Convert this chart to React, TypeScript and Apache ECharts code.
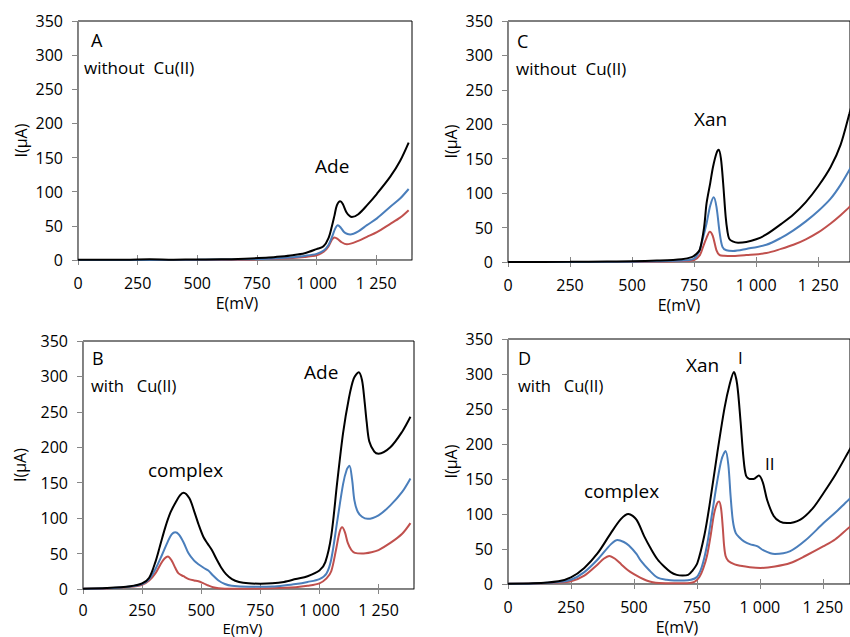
import React, { useEffect, useRef } from "react";
import * as echarts from "echarts";

// ---------- data (E in mV, I in µA) ----------
const xTicks = [0, 250, 500, 750, 1000, 1250];
const yTicks = [0, 50, 100, 150, 200, 250, 300, 350];

// Panel A: adenine, without Cu(II)
const aBlack: [number, number][] = [[0,0.5],[100,0.5],[200,0.5],[300,1],[400,0.5],[500,0.8],[600,1],[700,2],[800,3.5],[850,5],[900,7],[950,10],[1000,16],[1029,20],[1050,32],[1064,49],[1075,65],[1085,80],[1099,86],[1110,82],[1125,70],[1140,64],[1148,63],[1175,67],[1211,80],[1253,97],[1309,122],[1350,145],[1386,172]];
const aBlue: [number, number][] = [[0,0],[500,0.3],[700,1],[800,2],[900,4],[950,6],[1000,9],[1030,14],[1050,22],[1064,33],[1078,46],[1089,51],[1100,48],[1115,41],[1130,38],[1141,37.5],[1175,42],[1211,51],[1253,61],[1309,78],[1350,90],[1386,104]];
const aRed: [number, number][] = [[0,0],[700,0.5],[800,1.5],[900,3],[950,4.5],[1000,7],[1030,12],[1050,20],[1065,30],[1075,33],[1088,31],[1105,26],[1127,23],[1175,28],[1211,34],[1253,41],[1309,53],[1350,62],[1386,73]];

// Panel B: adenine, with Cu(II)
const bBlack: [number, number][] = [[0,0.5],[100,1.5],[200,4],[250,8],[280,16],[306,38],[325,60],[348,87],[370,108],[390,121],[410,132],[425,136],[450,128],[470,110],[490,90],[510,73],[527,64],[545,55],[565,42],[585,30],[605,21],[630,14],[660,10],[700,8],[750,7.5],[800,8],[850,10],[900,14],[950,18],[1000,26],[1025,38],[1050,75],[1075,150],[1100,220],[1125,270],[1145,297],[1166,306],[1180,295],[1190,268],[1200,235],[1211,208],[1232,194],[1250,191],[1300,200],[1350,222],[1385,243]];
const bBlue: [number, number][] = [[0,0.3],[100,1],[200,3.5],[250,7],[280,14],[306,28],[334,48],[360,68],[375,77],[390,80],[405,77],[425,66],[447,50],[470,40],[488,35],[510,30],[530,26],[550,19],[573,12],[600,7],[629,4.5],[700,3],[750,3],[800,3.5],[850,5],[900,7],[950,10],[1000,14],[1030,22],[1050,42],[1075,95],[1100,148],[1115,168],[1127,174],[1138,155],[1148,125],[1162,109],[1180,102],[1204,99],[1250,104],[1300,118],[1350,137],[1385,156]];
const bRed: [number, number][] = [[0,0.2],[100,0.8],[200,3],[250,6],[280,12],[306,22],[330,36],[345,43],[359,46],[375,40],[390,30],[404,22],[425,18],[447,14],[470,12],[488,11],[510,8],[530,5],[550,2.5],[573,1],[600,0.5],[700,0.5],[800,1],[900,2.5],[950,4.5],[1000,8],[1030,15],[1050,25],[1070,55],[1085,80],[1096,87],[1108,80],[1120,65],[1135,55],[1150,51],[1180,50],[1220,52],[1250,55],[1300,65],[1350,78],[1385,93]];

// Panel C: xanthine, without Cu(II)
const cBlack: [number, number][] = [[0,0],[250,0.3],[400,0.8],[500,1],[600,2],[700,4],[740,7],[760,12],[773,18],[790,50],[800,85],[815,115],[826,138],[840,158],[849,163],[858,150],[867,114],[877,66],[884,45],[891,34],[905,30],[927,28],[960,29],[1000,33],[1041,40],[1100,55],[1150,69],[1200,87],[1250,110],[1300,138],[1340,170],[1376,216],[1400,248]];
const cBlue: [number, number][] = [[0,0],[500,0.5],[700,2],[750,5],[770,15],[780,27],[800,56],[815,82],[829,94],[840,80],[853,42],[864,22],[880,17],[907,16],[960,19],[1041,25],[1100,35],[1150,46],[1200,59],[1250,74],[1300,92],[1340,112],[1376,134],[1400,150]];
const cRed: [number, number][] = [[0,0],[600,0.5],[700,1.5],[750,3],[773,10],[786,22],[800,35],[813,44],[825,38],[840,17],[853,10],[870,9],[907,8.7],[960,10],[1041,13],[1100,19],[1150,25],[1200,33],[1250,43],[1300,56],[1340,68],[1376,80],[1400,90]];

// Panel D: xanthine, with Cu(II)
const dBlack: [number, number][] = [[0,0.5],[100,1],[200,4],[250,9.5],[303,23],[356,44],[409,73],[449,93],[478,100],[510,92],[541,68],[568,50],[594,35],[620,25],[646,17],[670,13],[693,12],[715,13],[730,18],[752,30],[780,70],[800,112],[831,187],[860,252],[880,285],[897,303],[910,285],[923,234],[935,180],[945,155],[960,150],[975,150],[996,155],[1012,145],[1029,120],[1055,97],[1080,89],[1108,87],[1161,92],[1210,108],[1253,130],[1300,156],[1352,189],[1400,220]];
const dBlue: [number, number][] = [[0,0.3],[100,0.8],[200,3],[250,6],[303,17],[356,35],[409,57],[435,63],[460,60],[480,55],[510,43],[528,33],[560,20],[594,9],[630,6],[660,5],[700,5],[726,6],[750,10],[770,25],[790,55],[810,100],[830,145],[848,178],[864,190],[875,170],[884,125],[893,90],[904,73],[920,66],[937,61],[960,57],[989,54],[1015,48],[1042,44],[1060,43],[1121,47],[1180,62],[1253,87],[1300,102],[1352,120],[1400,135]];
const dRed: [number, number][] = [[0,0.2],[100,0.6],[200,2],[250,4],[303,12],[356,28],[380,36],[402,40],[425,36],[450,28],[475,20],[500,14],[525,9],[550,5],[575,2.5],[600,1.5],[650,1],[700,1],[740,3],[760,10],[775,22],[790,40],[805,70],[818,100],[830,115],[838,118],[846,108],[853,80],[858,55],[864,40],[875,33],[900,28],[923,26],[960,24],[1003,23],[1060,25],[1121,30],[1180,40],[1253,54],[1300,64],[1352,80],[1400,93]];

const seriesColors = ["#C0504D", "#4A7EBB", "#000000"]; // red, blue, black

const FONT = "'Open Sans', sans-serif";

type Panel = {
  left: number; top: number; width: number; height: number; xMax: number;
  nameShift: number; xLabelMargin: number; xNameGap: number; xNameSize: number; yNameGap: number;
  data: [number, number][][]; // red, blue, black
};

const panels: Panel[] = [
  { left: 78, top: 21, width: 334, height: 239, xMax: 1400, nameShift: 8, xLabelMargin: 15, xNameGap: 35, xNameSize: 16, yNameGap: 49, data: [aRed, aBlue, aBlack] },
  { left: 508, top: 21, width: 343, height: 241, xMax: 1378, nameShift: 0, xLabelMargin: 15, xNameGap: 35, xNameSize: 16, yNameGap: 49, data: [cRed, cBlue, cBlack] },
  { left: 83, top: 341, width: 331, height: 248, xMax: 1400, nameShift: 6, xLabelMargin: 13, xNameGap: 31, xNameSize: 15, yNameGap: 55, data: [bRed, bBlue, bBlack] },
  { left: 508, top: 339, width: 343, height: 245, xMax: 1358, nameShift: 2, xLabelMargin: 15, xNameGap: 35, xNameSize: 16, yNameGap: 49, data: [dRed, dBlue, dBlack] },
];

const fmtE = (v: number) => (v >= 1000 ? String(v).replace(/(\d)(\d{3})$/, "$1 $2") : String(v));

function buildOption() {
  const grid: any[] = [];
  const xAxis: any[] = [];
  const yAxis: any[] = [];
  const series: any[] = [];
  panels.forEach((p, i) => {
    grid.push({
      left: p.left, top: p.top, width: p.width, height: p.height,
      show: true, borderColor: "#000", borderWidth: 1, backgroundColor: "transparent",
    });
    xAxis.push({
      gridIndex: i, type: "value", position: "bottom", min: 0, max: p.xMax, interval: xTicks[1] - xTicks[0],
      axisLine: { show: true, onZero: false, lineStyle: { color: "#868686", width: 1 } },
      axisTick: { show: true, inside: false, length: 5, lineStyle: { color: "#868686" } },
      axisLabel: { margin: p.xLabelMargin, fontSize: 16, fontFamily: FONT, color: "#000", showMaxLabel: false, formatter: fmtE },
      splitLine: { show: false },
      name: "E(mV)", nameLocation: "middle", nameGap: p.xNameGap,
      nameTextStyle: { fontSize: p.xNameSize, fontFamily: FONT, color: "#000", padding: [0, 2 * p.nameShift, 0, 0] },
    });
    xAxis.push({
      gridIndex: i, type: "value", position: "bottom", min: 0, max: p.xMax, interval: xTicks[1] - xTicks[0],
      axisLine: { show: false, onZero: false },
      axisTick: { show: true, inside: true, length: 5, lineStyle: { color: "#868686" } },
      axisLabel: { show: false },
      splitLine: { show: false },
    });
    yAxis.push({
      gridIndex: i, type: "value", min: yTicks[0], max: yTicks[yTicks.length - 1], interval: yTicks[1] - yTicks[0],
      axisLine: { show: true, lineStyle: { color: "#868686", width: 1 } },
      axisTick: { show: true, inside: false, length: 6, lineStyle: { color: "#868686" } },
      axisLabel: { margin: 15, fontSize: 16, fontFamily: FONT, color: "#000" },
      splitLine: { show: false },
      name: "I(µA)", nameLocation: "middle", nameGap: p.yNameGap,
      nameTextStyle: { fontSize: 16, fontFamily: FONT, color: "#000" },
    });
    p.data.forEach((d, k) => {
      series.push({
        type: "line", xAxisIndex: 2 * i, yAxisIndex: i, data: d,
        showSymbol: false, smooth: 0.3, clip: true, silent: true,
        lineStyle: { color: seriesColors[k], width: 2 },
        itemStyle: { color: seriesColors[k] },
        z: 2 + k,
      });
    });
  });

  const txt = (text: string, x: number, y: number, size: number) => ({
    type: "text", x, y, silent: true, z: 100,
    style: { text, fontSize: size, fontFamily: FONT, fill: "#000", align: "left", verticalAlign: "middle" },
  });

  const graphic = [
    txt("A", 91, 40, 18),
    txt("without  Cu(II)", 84, 67, 17),
    txt("Ade", 315, 166, 19),
    txt("C", 517, 41, 18),
    txt("without  Cu(II)", 516, 68, 17),
    txt("Xan", 694, 119, 19),
    txt("B", 92, 358, 18),
    txt("with   Cu(II)", 91, 385, 16.5),
    txt("Ade", 304, 372, 19),
    txt("complex", 148, 470, 19),
    txt("D", 518, 358, 18),
    txt("with   Cu(II)", 518, 385, 16.5),
    txt("Xan", 686, 365, 19),
    txt("I", 738, 357, 17),
    txt("II", 765, 463, 17),
    txt("complex", 584, 491, 19),
  ];

  return { animation: false, grid, xAxis, yAxis, series, graphic };
}

export default function App() {
  const ref = useRef<HTMLDivElement>(null);
  useEffect(() => {
    if (!ref.current) return;
    const chart = echarts.init(ref.current, undefined, { renderer: "svg" });
    chart.setOption(buildOption());
    return () => chart.dispose();
  }, []);
  return (
    <div
      ref={ref}
      style={{ position: "fixed", left: 0, top: 0, width: 850, height: 637, background: "#fff" }}
    />
  );
}
